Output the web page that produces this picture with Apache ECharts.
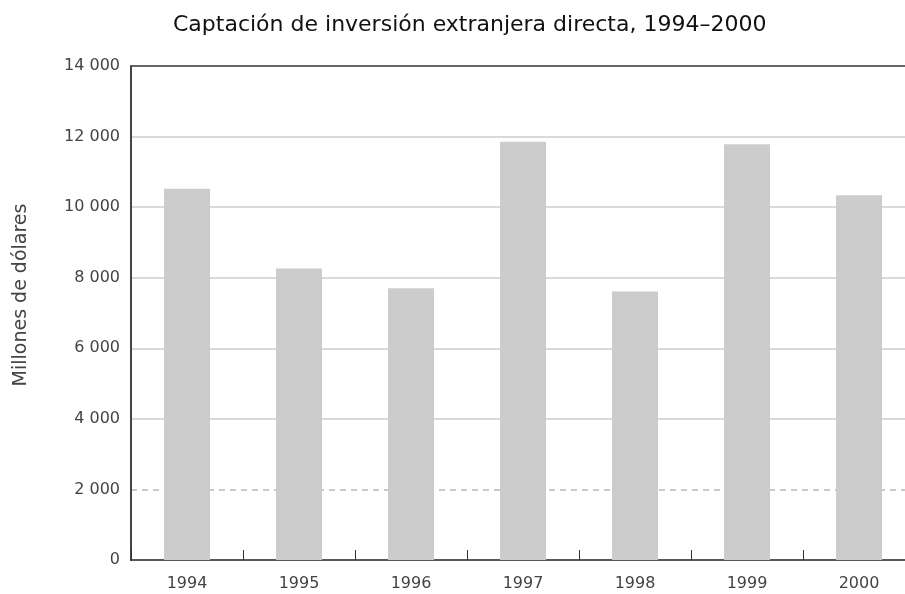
<!DOCTYPE html>
<html lang="es">
<head>
    <meta charset="UTF-8">
    <title>Captación de inversión extranjera directa, 1994-2000</title>
    <script src="https://cdn.jsdelivr.net/npm/echarts@6/dist/echarts.min.js"></script>
    <style>
        html, body { margin: 0; padding: 0; background: #fff; }
    </style>
</head>
<body>
    <div id="chart" style="width: 905px; height: 594px;"></div>
    <script>
        // Datos (millones de dólares)
        var years = ['1994', '1995', '1996', '1997', '1998', '1999', '2000'];
        var inversion = [10520, 8260, 7700, 11850, 7610, 11780, 10340];

        // Eje Y
        var yMin = 0;
        var yMax = 14000;
        var yStep = 2000;

        var chart = echarts.init(document.getElementById('chart'));

        var labelFont = 'DejaVu Sans';

        var option = {
            animation: false,
            backgroundColor: '#fff',
            title: {
                text: 'Captación de inversión extranjera directa, 1994–2000',
                left: 168,
                top: 9,
                textStyle: { fontFamily: labelFont, fontSize: 22, fontWeight: 'normal', color: '#111' }
            },
            grid: { left: 131, top: 66, bottom: 34, right: -10, outerBoundsMode: 'none' },
            xAxis: {
                type: 'category',
                data: years,
                boundaryGap: true,
                axisLine: { lineStyle: { color: '#222', width: 1.5 } },
                axisTick: { show: true, inside: true, length: 10, lineStyle: { color: '#333' } },
                axisLabel: { fontFamily: labelFont, fontSize: 16, color: '#444', margin: 16 },
                splitLine: { show: false }
            },
            yAxis: [{
                type: 'value',
                min: yMin,
                max: yMax,
                interval: yStep,
                name: 'Millones de dólares',
                nameLocation: 'middle',
                nameGap: 100,
                nameTextStyle: { fontFamily: labelFont, fontSize: 19, color: '#444', padding: [0, 0, 0, 36] },
                axisLine: { show: true, lineStyle: { color: '#444', width: 2 } },
                axisTick: { show: false },
                axisLabel: {
                    fontFamily: labelFont, fontSize: 16, color: '#444', margin: 11,
                    formatter: function (v) { return v === 0 ? '0' : String(v).replace(/\B(?=(\d{3})+(?!\d))/g, ' '); }
                },
                splitLine: {
                    show: true,
                    lineStyle: {
                        color: ['transparent', 'transparent', '#cccccc', '#cccccc', '#cccccc', '#cccccc', '#cccccc', '#333333'],
                        width: 1.5
                    }
                }
            }, {
                // segundo eje solo para la línea discontinua de 2 000
                type: 'value',
                position: 'left',
                min: yMin,
                max: yMax,
                interval: yStep,
                axisLine: { show: false },
                axisTick: { show: false },
                axisLabel: { show: false },
                splitLine: {
                    show: true,
                    lineStyle: {
                        color: ['transparent', '#bbbbbb', 'transparent', 'transparent', 'transparent', 'transparent', 'transparent', 'transparent'],
                        type: [6, 5],
                        width: 1.5
                    }
                }
            }],
            series: [{
                type: 'bar',
                data: inversion,
                barWidth: 46,
                itemStyle: { color: '#cccccc' },
                emphasis: { disabled: true }
            }]
        };

        chart.setOption(option);
    </script>
</body>
</html>
